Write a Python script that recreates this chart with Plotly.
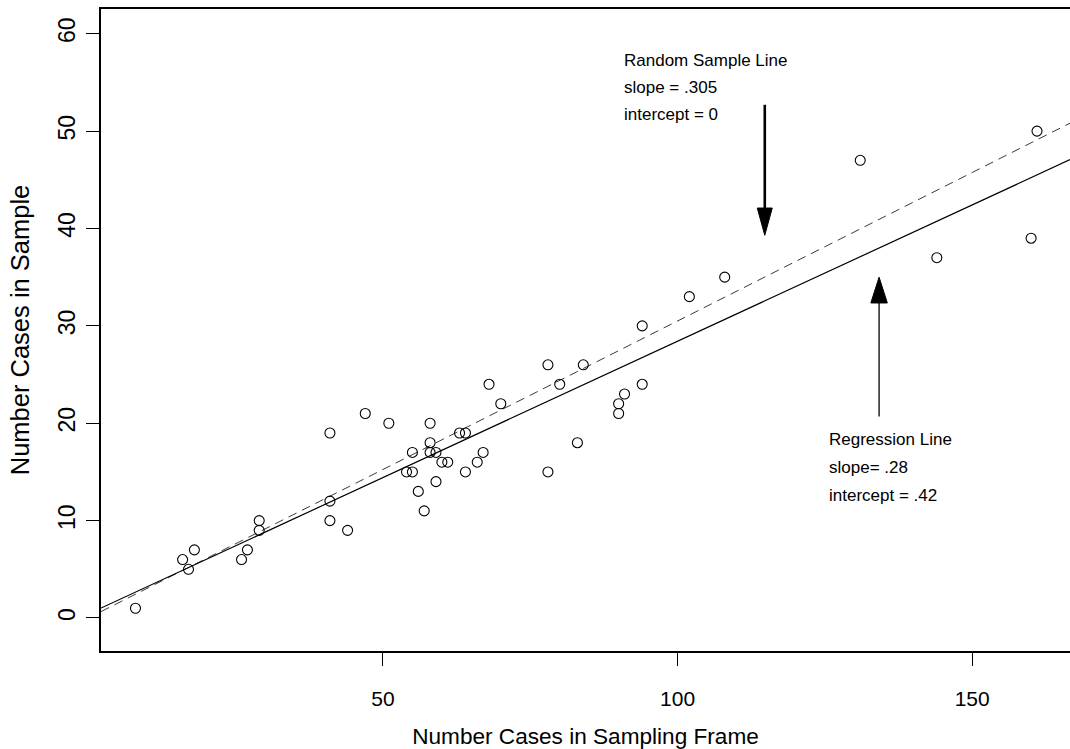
import plotly.graph_objects as go

# ---- data ----
frame_n = [8, 16, 17, 18, 26, 27, 29, 29, 41, 41, 41, 44, 47, 51, 54, 55, 55, 56, 57, 58,
           58, 58, 59, 59, 60, 61, 63, 64, 64, 66, 67, 68, 70, 78, 78, 80, 83, 84, 90, 90,
           91, 94, 94, 102, 108, 131, 144, 160, 161]
sample_n = [1, 6, 5, 7, 6, 7, 9, 10, 10, 12, 19, 9, 21, 20, 15, 15, 17, 13, 11, 17,
            18, 20, 14, 17, 16, 16, 19, 15, 19, 16, 17, 24, 22, 15, 26, 24, 18, 26, 21, 22,
            23, 24, 30, 33, 35, 47, 37, 39, 50]

line_names = ["Random Sample Line", "Regression Line"]
line_slopes = [0.305, 0.28]
line_intercepts = [0.0, 0.42]

x_ticks = [50, 100, 150]
y_ticks = [0, 10, 20, 30, 40, 50, 60]

x_range = [2.15, 166.6]
y_range = [-3.39, 62.54]

FONT = "Liberation Sans, Arial, sans-serif"

fig = go.Figure()

# abline-style lines across full x range
line_styles = [dict(color="#3a3a3a", width=1, dash="9px,6px"),
               dict(color="black", width=1.2)]
for name, s, b, st in zip(line_names, line_slopes, line_intercepts, line_styles):
    xs = [x_range[0], x_range[1]]
    ys = [b + s * x for x in xs]
    fig.add_trace(go.Scatter(x=xs, y=ys, mode="lines", line=st, name=name,
                             showlegend=False, hoverinfo="skip"))

fig.add_trace(go.Scatter(x=frame_n, y=sample_n, mode="markers",
                         marker=dict(symbol="circle-open", size=10, color="black",
                                     line=dict(width=1.1, color="black")),
                         showlegend=False))

# arrows (shaft + filled head)
arrows = [
    dict(x=114.8, tail=52.7, tip=39.3, hl=2.8, hw=1.27, w=2.6),
    dict(x=134.2, tail=20.7, tip=35.0, hl=2.65, hw=1.4, w=1.3),
]
shapes = []
for a in arrows:
    direction = 1 if a["tip"] > a["tail"] else -1
    base = a["tip"] - direction * a["hl"]
    shapes.append(dict(type="line", xref="x", yref="y", x0=a["x"], x1=a["x"],
                       y0=a["tail"], y1=base, line=dict(color="black", width=a["w"])))
    fig.add_trace(go.Scatter(x=[a["x"] - a["hw"], a["x"] + a["hw"], a["x"], a["x"] - a["hw"]],
                             y=[base, base, a["tip"], base], mode="lines", fill="toself",
                             fillcolor="black", line=dict(color="black", width=1),
                             showlegend=False, hoverinfo="skip"))

texts = [
    ("Random Sample Line", 90.5, 57.3),
    ("slope = .305", 90.5, 54.45),
    ("intercept = 0", 90.5, 51.67),
    ("Regression Line", 125.3, 18.37),
    ("slope= .28", 125.3, 15.49),
    ("intercept = .42", 125.3, 12.61),
]
annotations = [dict(text=t, x=x, y=y, xref="x", yref="y", showarrow=False,
                    xanchor="left", yanchor="middle",
                    font=dict(family=FONT, size=17, color="black")) for t, x, y in texts]

fig.update_layout(
    width=1070, height=749,
    margin=dict(l=101, r=0, t=9, b=98),
    paper_bgcolor="white", plot_bgcolor="white",
    font=dict(family=FONT, color="black"),
    shapes=shapes, annotations=annotations,
)
fig.update_xaxes(range=x_range, tickvals=x_ticks, ticks="outside", ticklen=13,
                 tickwidth=1.3, tickcolor="black", showline=True, linecolor="black",
                 linewidth=1.5, mirror=True, showgrid=False, zeroline=False,
                 tickfont=dict(size=21, family=FONT), ticklabelstandoff=15,
                 title=dict(text="Number Cases in Sampling Frame", font=dict(size=22.6, family=FONT),
                            standoff=21))
fig.update_yaxes(range=y_range, tickvals=y_ticks, ticks="outside", ticklen=13,
                 tickwidth=1.3, tickcolor="black", showline=True, linecolor="black",
                 linewidth=1.5, mirror=False, showgrid=False, zeroline=False,
                 tickangle=-90, tickfont=dict(size=23, family=FONT), ticklabelstandoff=2,
                 title=dict(text="Number Cases in Sample", font=dict(size=25.5, family=FONT),
                            standoff=17))

# remove the default 8px page margin so the figure fills the window exactly
fig.write_html("out.html", config={"displayModeBar": False},
               post_script="document.body.style.margin='0';document.body.style.overflow='hidden';")
